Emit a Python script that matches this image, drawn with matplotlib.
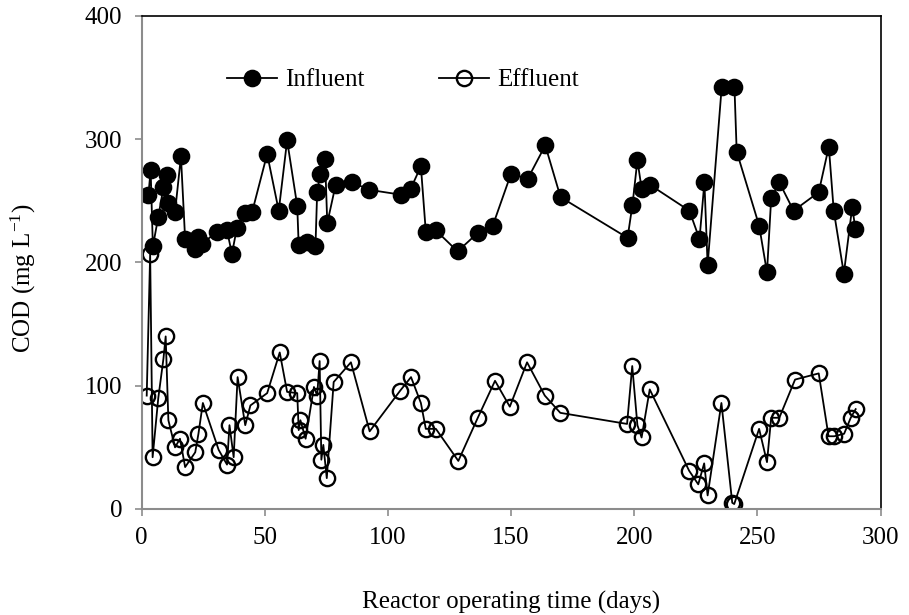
import matplotlib
matplotlib.use("Agg")
import matplotlib.pyplot as plt

plt.rcParams['font.family'] = ['Liberation Serif', 'DejaVu Serif']
plt.rcParams['mathtext.fontset'] = 'custom'
plt.rcParams['mathtext.rm'] = 'Liberation Serif'
plt.rcParams['mathtext.it'] = 'Liberation Serif:italic'

# influent COD
inf_day = [2.8, 3.7, 4.6, 6.8, 8.9, 10.2, 10.9, 13.6, 16.0, 17.7, 21.8, 23.1, 24.5,
           30.6, 34.7, 36.7, 38.7, 42.1, 44.9, 51.0, 55.7, 59.1, 63.2, 63.8, 67.3,
           70.6, 71.3, 72.5, 74.5, 75.4, 78.8, 85.6, 92.3, 105.3, 109.3, 113.4,
           115.4, 119.5, 128.3, 136.5, 142.6, 150.0, 156.8, 163.9, 170.1, 197.3,
           199.3, 201.3, 203.0, 206.4, 222.4, 226.5, 228.5, 229.8, 235.5, 240.7,
           241.6, 250.7, 253.9, 255.6, 258.9, 264.7, 274.9, 279.0, 281.0, 285.1,
           288.5, 289.8]
inf_cod = [255, 275, 213, 237, 261, 271, 248, 241, 286, 219, 211, 221, 215,
           225, 226, 207, 228, 240, 241, 288, 242, 299, 246, 214, 217,
           213, 257, 272, 284, 232, 263, 265, 259, 255, 260, 278,
           225, 226, 209, 224, 230, 272, 268, 295, 253, 220,
           247, 283, 260, 263, 242, 219, 265, 198, 342, 342,
           290, 230, 192, 252, 265, 242, 257, 294, 242, 191,
           245, 227]

# effluent COD
eff_day = [2.1, 3.5, 4.5, 6.8, 8.9, 9.8, 10.9, 13.6, 15.6, 17.7, 21.8, 23.1, 24.9,
           31.3, 34.7, 35.7, 37.4, 39.0, 42.1, 44.2, 51.0, 56.1, 59.1, 63.2, 63.8,
           64.5, 66.6, 70.0, 71.3, 72.3, 73.0, 73.8, 75.2, 78.0, 85.0, 92.6, 105.0,
           109.4, 113.4, 115.4, 119.5, 128.6, 136.5, 143.5, 149.5, 156.5, 163.7,
           170.0, 197.1, 199.2, 201.3, 203.0, 206.3, 222.3, 226.0, 228.4, 229.8,
           235.4, 239.8, 240.6, 250.7, 253.9, 255.6, 258.9, 265.3, 274.9, 278.9,
           281.2, 285.2, 287.9, 289.9]
eff_cod = [92, 207, 42, 90, 122, 140, 72, 50, 57, 34, 46, 61, 86,
           48, 36, 68, 42, 107, 68, 84, 94, 127, 95, 94, 64,
           72, 57, 99, 92, 120, 40, 52, 25, 103, 119, 63, 96,
           107, 86, 65, 65, 39, 74, 104, 83, 119, 92,
           78, 69, 116, 68, 58, 97, 31, 20, 37, 11,
           86, 5, 4, 65, 38, 74, 74, 105, 110, 59,
           59, 61, 74, 81]

fig = plt.figure(figsize=(9.09, 6.15), dpi=100)
ax = fig.add_axes([0.1557, 0.1724, 0.8130, 0.8016])

ax.plot(inf_day, inf_cod, color='black', lw=1.3, marker='o', ms=11.5,
        mfc='black', mec='black', mew=1.2, label='Influent')
ax.plot(eff_day, eff_cod, color='black', lw=1.3, marker='o', ms=11.0,
        mfc='none', mec='black', mew=1.7, label='Effluent')

ax.set_xlim(0, 300)
ax.set_ylim(0, 400)
ax.set_xticks(range(0, 301, 50))
ax.set_yticks(range(0, 401, 100))
ax.tick_params(axis='both', direction='out', length=5, width=1.2, color='#8c8c8c',
               labelsize=18, labelcolor='black')
ax.tick_params(axis='x', pad=8)
ax.tick_params(axis='y', pad=9)

for side in ['left', 'bottom']:
    ax.spines[side].set_color('#8c8c8c')
    ax.spines[side].set_linewidth(1.5)
for side in ['top', 'right']:
    ax.spines[side].set_color('black')
    ax.spines[side].set_linewidth(1.2)

ax.set_xlabel('Reactor operating time (days)', fontsize=18, labelpad=30)
ax.set_ylabel('COD (mg L$^{-1}$)', fontsize=18)
ax.yaxis.set_label_coords(-0.140, 0.469)

ax.legend(loc='center left', bbox_to_anchor=(0.102, 0.870), borderaxespad=0,
          ncol=2, frameon=False, fontsize=18, handlelength=2.0,
          handletextpad=0.32, columnspacing=3.0)

fig.savefig('out.png', dpi=100)
